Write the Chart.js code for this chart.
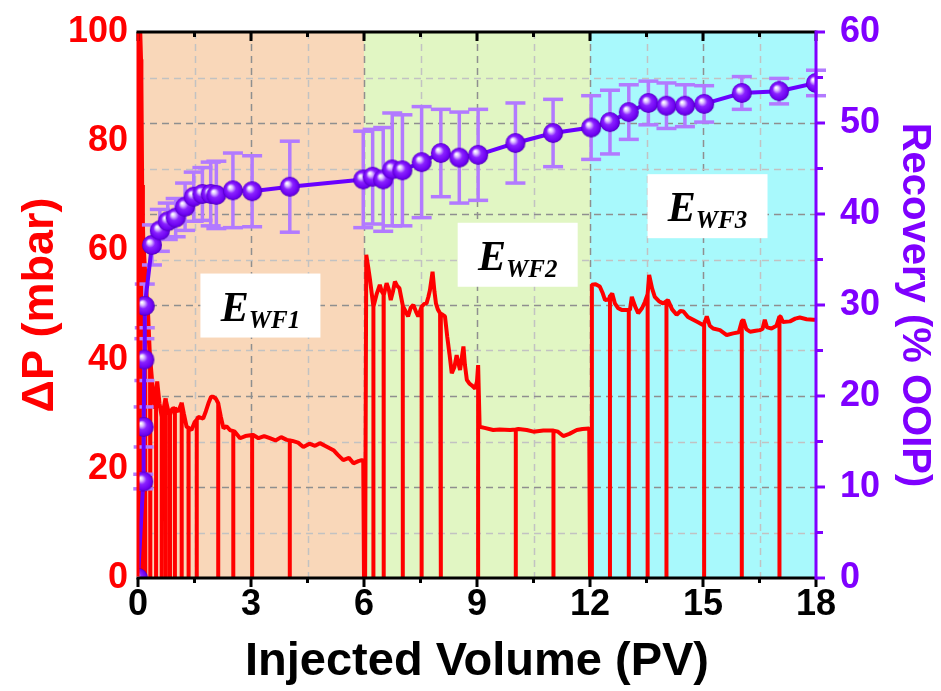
<!DOCTYPE html>
<html>
<head>
<meta charset="utf-8">
<title>Waterflood pressure and recovery</title>
<script src="https://cdn.jsdelivr.net/npm/chart.js@4.4.1/dist/chart.umd.min.js"></script>
<style>
  html, body { margin: 0; padding: 0; background: #fff; }
  #wrap { width: 941px; height: 691px; position: relative; }
</style>
</head>
<body>
<div id="wrap"><canvas id="flood"></canvas></div>
<script>
// differential pressure trace, one pair of arrays per flooding stage
const stage1PV = [0, 0.01, 0.05, 0.08, 0.11, 0.14, 0.2, 0.27, 0.34, 0.4, 0.45, 0.51, 0.57, 0.63, 0.68, 0.73, 0.79, 0.85, 0.91, 0.98, 1.07,
  1.16, 1.22, 1.29, 1.35, 1.42, 1.5, 1.6, 1.73, 1.8, 1.87, 1.94, 2.0, 2.07, 2.13, 2.2, 2.27, 2.35, 2.44, 2.57, 2.71,
  2.85, 3.06, 3.2, 3.35, 3.5, 3.65, 3.8, 3.95, 4.1, 4.25, 4.39, 4.55, 4.7, 4.83, 5.0, 5.19, 5.3, 5.45, 5.6, 5.72,
  5.85, 5.94, 5.98, 6.0, 6.03, 6.06];
const stage1DP = [0, 112, 104, 95, 72, 62, 55, 48, 40, 34, 31, 36, 32, 29.5, 31, 32.9, 31, 29.9, 31, 31.1, 30.5,
  32.1, 30, 27.7, 27.5, 27.1, 28.5, 29.5, 29.2, 30.5, 32, 33.2, 33.2, 32.8, 32, 29.5, 27.4, 27.8, 27.1, 26.8, 25.6,
  26, 26.2, 25.6, 26, 25.6, 25.2, 25.8, 25.3, 25.1, 24.8, 24.0, 24.6, 24.2, 24.7, 24.1, 23.4, 22.6, 21.6, 22.0, 21.0,
  21.4, 21.6, 21.5, 0, 0, 59.2];

const stage2PV = [6.11, 6.16, 6.25, 6.34, 6.42, 6.47, 6.53, 6.6, 6.66, 6.71, 6.77, 6.82, 6.88, 6.94, 7.04, 7.1, 7.17, 7.24, 7.31, 7.38,
  7.44, 7.53, 7.6, 7.66, 7.71, 7.75, 7.82, 7.87, 7.91, 7.96, 8.02, 8.09, 8.15, 8.21, 8.27, 8.33, 8.4, 8.46, 8.5, 8.55,
  8.6, 8.64, 8.68, 8.73, 8.8, 8.86, 8.95, 9.0, 9.03, 9.07, 9.2, 9.43, 9.6, 9.88, 10.1, 10.32, 10.5, 10.76, 11.0, 11.15,
  11.29, 11.45, 11.65, 11.8, 11.98, 12.0, 12.03, 12.05];
const stage2DP = [57, 54.6, 49.7, 52.1, 53.7, 52.5, 51.8, 54.0, 52.8, 50.9, 52.5, 54.3, 53.5, 53.1, 49.7, 48.9, 47.9, 49.5, 50.0, 48.8,
  47.9, 49.7, 50.2, 50.3, 51.5, 52.7, 56.1, 52.5, 50.3, 49.2, 48.5, 48.2, 47.9, 44.2, 41, 37.5, 38.6, 40.8, 39.5, 38.1,
  40.5, 42.4, 39, 36.3, 35.6, 35.3, 34.7, 36, 39, 27.7, 27.5, 27.1, 27.2, 27.1, 27.3, 27.1, 26.8, 27.0, 27.0, 26.8,
  26.0, 26.4, 27.1, 27.3, 27.4, 0, 0, 53.7];

const stage3PV = [12.15, 12.26, 12.33, 12.4, 12.5, 12.59, 12.66, 12.75, 12.84, 12.95, 13.06, 13.11, 13.2, 13.28, 13.38, 13.46, 13.57, 13.65, 13.72, 13.83,
  13.94, 14.07, 14.18, 14.3, 14.4, 14.48, 14.6, 14.74, 14.88, 15.01, 15.1, 15.18, 15.27, 15.45, 15.63, 15.8, 15.95, 16.07, 16.15, 16.25,
  16.4, 16.51, 16.58, 16.64, 16.7, 16.82, 16.95, 17.06, 17.12, 17.31, 17.45, 17.57, 17.75, 17.93, 18.0];
const stage3DP = [53.8, 53.4, 52.3, 50.9, 51.0, 52.1, 50.3, 49.4, 49.1, 49.1, 49.1, 51.5, 49.7, 48.5, 49.4, 50.6, 55.5, 53.0, 51.5, 50.7,
  50.3, 50.9, 49.2, 48.2, 48.9, 48.8, 47.8, 47.3, 46.8, 46.3, 47.9, 46.2, 45.7, 45.4, 44.5, 44.8, 45.0, 47.3, 45.6, 45.1,
  45.3, 45.4, 45.6, 47.3, 45.9, 45.7, 46.2, 47.9, 46.9, 47.0, 47.5, 47.7, 47.4, 47.3, 47.3];

// pressure falls to zero each time the line is opened for an effluent sample
const dropPV  = [0.04, 0.09, 0.13, 0.19, 0.32, 0.48, 0.63, 0.74, 0.85, 0.98, 1.16, 1.34, 1.56, 2.13, 2.53, 3.03, 4.03,
  6.25, 6.52, 7.03, 7.53, 8.04, 9.03, 10.03, 11.03,
  12.53, 13.03, 13.53, 14.03, 15.03, 16.03, 17.03];
const dropTop = [105, 91, 65, 56, 40, 34, 29.5, 32.5, 29.9, 31.1, 32.1, 27.5, 29, 32, 26.9, 26.2, 25.2,
  49.7, 51.9, 49.9, 49.7, 48.4, 39, 27.2, 27.0,
  51.6, 49.1, 52, 50.7, 46.5, 47, 47.9];

// oil recovery with standard deviation
const recPV = [0, 0.14, 0.15, 0.17, 0.18, 0.37, 0.58, 0.79, 1.0, 1.25, 1.48, 1.71, 1.93, 2.08, 2.52, 3.03, 4.03, 5.98, 6.23, 6.51,
  6.75, 7.02, 7.53, 8.04, 8.53, 9.03, 10.02, 11.02, 12.03, 12.53, 13.03, 13.55, 14.03, 14.52, 15.03, 16.03, 17.02, 18.0];
const recOOIP = [0, 10.6, 16.6, 24.0, 29.9, 36.6, 38.2, 39.2, 39.6, 40.8, 41.9, 42.2, 42.2, 42.1, 42.6, 42.5, 43.0, 43.8, 44.1, 43.8,
  44.9, 44.8, 45.7, 46.7, 46.2, 46.5, 47.8, 48.9, 49.5, 50.1, 51.2, 52.2, 51.9, 51.9, 52.1, 53.3, 53.5, 54.4];
const recErr = [0, 0.8, 2.2, 2.3, 2.4, 2.2, 2.3, 2.0, 2.1, 2.6, 2.7, 2.9, 3.5, 3.7, 4.1, 3.9, 5.0, 5.3, 5.2, 5.7,
  6.2, 6.1, 6.1, 4.8, 5.0, 5.0, 4.4, 3.7, 3.5, 3.5, 3.0, 2.4, 2.5, 2.3, 2.0, 1.8, 1.4, 1.4];

// axes
const pvTicks = [0, 3, 6, 9, 12, 15, 18];
const dpTicks = [0, 20, 40, 60, 80, 100];
const recTicks = [0, 10, 20, 30, 40, 50, 60];
const stageEdges = [0, 6, 12, 18];
const stageNames = ['WF1', 'WF2', 'WF3'];
const stageFills = ['#f9d7b9', '#e1f6c3', '#a8f9fc'];

const RED = '#ff0000';
const PURPLE = '#7f00ff';
const BAR = '#b27aff';

function pressureSeries() {
  const pv = stage1PV.concat(stage2PV, stage3PV);
  const dp = stage1DP.concat(stage2DP, stage3DP);
  const pts = pv.map((x, i) => ({ x, y: dp[i], k: -1 }));
  dropPV.forEach((x, i) => {
    pts.push({ x, y: dropTop[i], k: 0 }, { x, y: 0, k: 1 }, { x, y: dropTop[i], k: 2 });
  });
  pts.sort((a, b) => a.x - b.x || a.k - b.k);
  return pts;
}

// glossy bead used as the recovery marker
function makeBead(r) {
  const c = document.createElement('canvas');
  c.width = c.height = r * 2 + 2;
  const g = c.getContext('2d');
  const m = r + 1;
  const grad = g.createRadialGradient(m - r * 0.3, m - r * 0.35, r * 0.05, m, m, r);
  grad.addColorStop(0, '#ffffff');
  grad.addColorStop(0.18, '#dcc0ff');
  grad.addColorStop(0.45, '#8a22ff');
  grad.addColorStop(0.85, '#6c00f0');
  grad.addColorStop(1, '#4c00b4');
  g.fillStyle = grad;
  g.beginPath();
  g.arc(m, m, r, 0, Math.PI * 2);
  g.fill();
  return c;
}

function seg(ctx, x1, y1, x2, y2) {
  ctx.beginPath();
  ctx.moveTo(x1, y1);
  ctx.lineTo(x2, y2);
  ctx.stroke();
}

// coloured stage bands and dashed grid under the data
const stageBands = {
  id: 'stageBands',
  beforeDatasetsDraw(chart) {
    const { ctx, chartArea: { top, bottom, left, right }, scales: { x, y1 } } = chart;
    ctx.save();
    for (let i = 0; i < stageNames.length; i++) {
      const a = x.getPixelForValue(stageEdges[i]);
      const b = x.getPixelForValue(stageEdges[i + 1]);
      ctx.fillStyle = stageFills[i];
      ctx.fillRect(a, top, b - a, bottom - top);
    }
    ctx.lineWidth = 1.5;
    ctx.setLineDash([7, 5]);
    for (let v = 1.5; v < 18; v += 1.5) {
      const px = Math.round(x.getPixelForValue(v)) + 0.5;
      ctx.strokeStyle = v % 3 === 0 ? '#8f8f8f' : '#c2c2c2';
      seg(ctx, px, top, px, bottom);
    }
    for (let v = 5; v < 60; v += 5) {
      const py = Math.round(y1.getPixelForValue(v)) + 0.5;
      ctx.strokeStyle = v % 10 === 0 ? '#8f8f8f' : '#c2c2c2';
      seg(ctx, left, py, right, py);
    }
    ctx.restore();
  }
};

// error bars go right before the recovery line
const errorBars = {
  id: 'errorBars',
  beforeDatasetDraw(chart, args) {
    if (args.index !== 1) return;
    const { ctx, scales: { x, y1 } } = chart;
    ctx.save();
    ctx.strokeStyle = BAR;
    ctx.lineWidth = 3.5;
    recPV.forEach((v, i) => {
      if (!recErr[i]) return;
      const px = x.getPixelForValue(v);
      const hi = y1.getPixelForValue(recOOIP[i] + recErr[i]);
      const lo = y1.getPixelForValue(recOOIP[i] - recErr[i]);
      seg(ctx, px, hi, px, lo);
      seg(ctx, px - 10, hi, px + 10, hi);
      seg(ctx, px - 10, lo, px + 10, lo);
    });
    ctx.restore();
  }
};

// axis lines and tick marks over the data
const frame = {
  id: 'frame',
  afterDatasetsDraw(chart) {
    const { ctx, chartArea: { top, bottom, left, right }, scales: { x, y1 } } = chart;
    ctx.save();
    ctx.lineWidth = 3;
    ctx.strokeStyle = '#000';
    seg(ctx, left - 1.5, top, right, top);
    seg(ctx, left - 1.5, bottom, right, bottom);
    for (let v = 0; v <= 18; v += 1.5) {
      const px = x.getPixelForValue(v);
      const len = v % 3 === 0 ? 9 : 5;
      seg(ctx, px, bottom, px, bottom + len);
      seg(ctx, px, top, px, top + len);
    }
    ctx.strokeStyle = RED;
    seg(ctx, left, top + 1.5, left, bottom - 1.5);
    ctx.strokeStyle = PURPLE;
    seg(ctx, right, top - 1.5, right, bottom + 1.5);
    for (let v = 0; v <= 60; v += 5) {
      const py = y1.getPixelForValue(v);
      seg(ctx, right, py, right + (v % 10 === 0 ? 9 : 7), py);
    }
    ctx.restore();
  }
};

// white boxes naming each flooding stage
const stageLabels = {
  id: 'stageLabels',
  afterDatasetsDraw(chart, args, opts) {
    const { ctx, scales: { x, y } } = chart;
    ctx.save();
    opts.spots.forEach((spot, i) => {
      const cx = x.getPixelForValue(spot[0]);
      const cy = y.getPixelForValue(spot[1]);
      ctx.fillStyle = '#fff';
      ctx.fillRect(cx - 60, cy - 32, 120, 64);
      ctx.fillStyle = '#000';
      ctx.textBaseline = 'alphabetic';
      ctx.textAlign = 'left';
      ctx.font = 'italic bold 42px "Liberation Serif", serif';
      const wE = ctx.measureText('E').width;
      ctx.font = 'italic bold 25px "Liberation Serif", serif';
      const wSub = ctx.measureText(stageNames[i]).width;
      const x0 = cx - (wE + wSub) / 2;
      ctx.font = 'italic bold 42px "Liberation Serif", serif';
      ctx.fillText('E', x0, cy + 15);
      ctx.font = 'italic bold 25px "Liberation Serif", serif';
      ctx.fillText(stageNames[i], x0 + wE, cy + 22);
    });
    ctx.restore();
  }
};

const tickFont = { family: 'Liberation Sans', weight: 'bold', size: 36 };

new Chart(document.getElementById('flood'), {
  type: 'line',
  data: {
    datasets: [
      {
        label: 'ΔP',
        data: pressureSeries(),
        yAxisID: 'y',
        borderColor: RED,
        borderWidth: 4,
        borderJoinStyle: 'bevel',
        pointRadius: 0,
        tension: 0,
        order: 2,
        clip: 0
      },
      {
        label: 'Recovery',
        data: recPV.map((v, i) => ({ x: v, y: recOOIP[i] })),
        yAxisID: 'y1',
        borderColor: '#6a00ff',
        borderWidth: 4,
        pointStyle: makeBead(10),
        pointRadius: 10,
        tension: 0,
        order: 1,
        clip: { left: 0, top: false, right: 0, bottom: 0 }
      }
    ]
  },
  options: {
    responsive: true,
    maintainAspectRatio: false,
    animation: false,
    layout: { padding: { top: 32, left: 0, right: 0, bottom: 0 } },
    plugins: {
      legend: { display: false },
      tooltip: { enabled: false },
      stageLabels: { spots: [[3.25, 49.9], [10.08, 59.2], [15.12, 68.1]] }
    },
    scales: {
      x: {
        type: 'linear',
        min: 0,
        max: 18,
        afterBuildTicks: s => { s.ticks = pvTicks.map(v => ({ value: v })); },
        afterFit: s => { s.height = 113; },
        grid: { display: false, drawTicks: true, tickLength: 5 },
        border: { display: false },
        ticks: { color: '#000', font: tickFont, padding: 0, maxRotation: 0 },
        title: {
          display: true,
          text: 'Injected Volume (PV)',
          color: '#000',
          font: { family: 'Liberation Sans', weight: 'bold', size: 47 },
          padding: { top: 0, bottom: 1 }
        }
      },
      y: {
        position: 'left',
        min: 0,
        max: 100,
        afterBuildTicks: s => { s.ticks = dpTicks.map(v => ({ value: v })); },
        afterFit: s => { s.width = 138; },
        grid: { display: false, drawTicks: true, tickLength: 10 },
        border: { display: false },
        ticks: { color: RED, font: tickFont, padding: 0 },
        title: {
          display: true,
          text: 'ΔP (mbar)',
          color: RED,
          font: { family: 'Liberation Sans', weight: 'bold', size: 45 },
          padding: { top: 14, bottom: 0 }
        }
      },
      y1: {
        position: 'right',
        min: 0,
        max: 60,
        afterBuildTicks: s => { s.ticks = recTicks.map(v => ({ value: v })); },
        afterFit: s => { s.width = 125; },
        grid: { display: false, drawTicks: true, tickLength: 24 },
        border: { display: false },
        ticks: { color: PURPLE, font: tickFont, padding: 0 },
        title: {
          display: true,
          text: 'Recovery (% OOIP)',
          color: PURPLE,
          font: { family: 'Liberation Sans', weight: 'bold', size: 40 },
          padding: { top: 3, bottom: 0 }
        }
      }
    }
  },
  plugins: [stageBands, errorBars, frame, stageLabels]
});
</script>
</body>
</html>
